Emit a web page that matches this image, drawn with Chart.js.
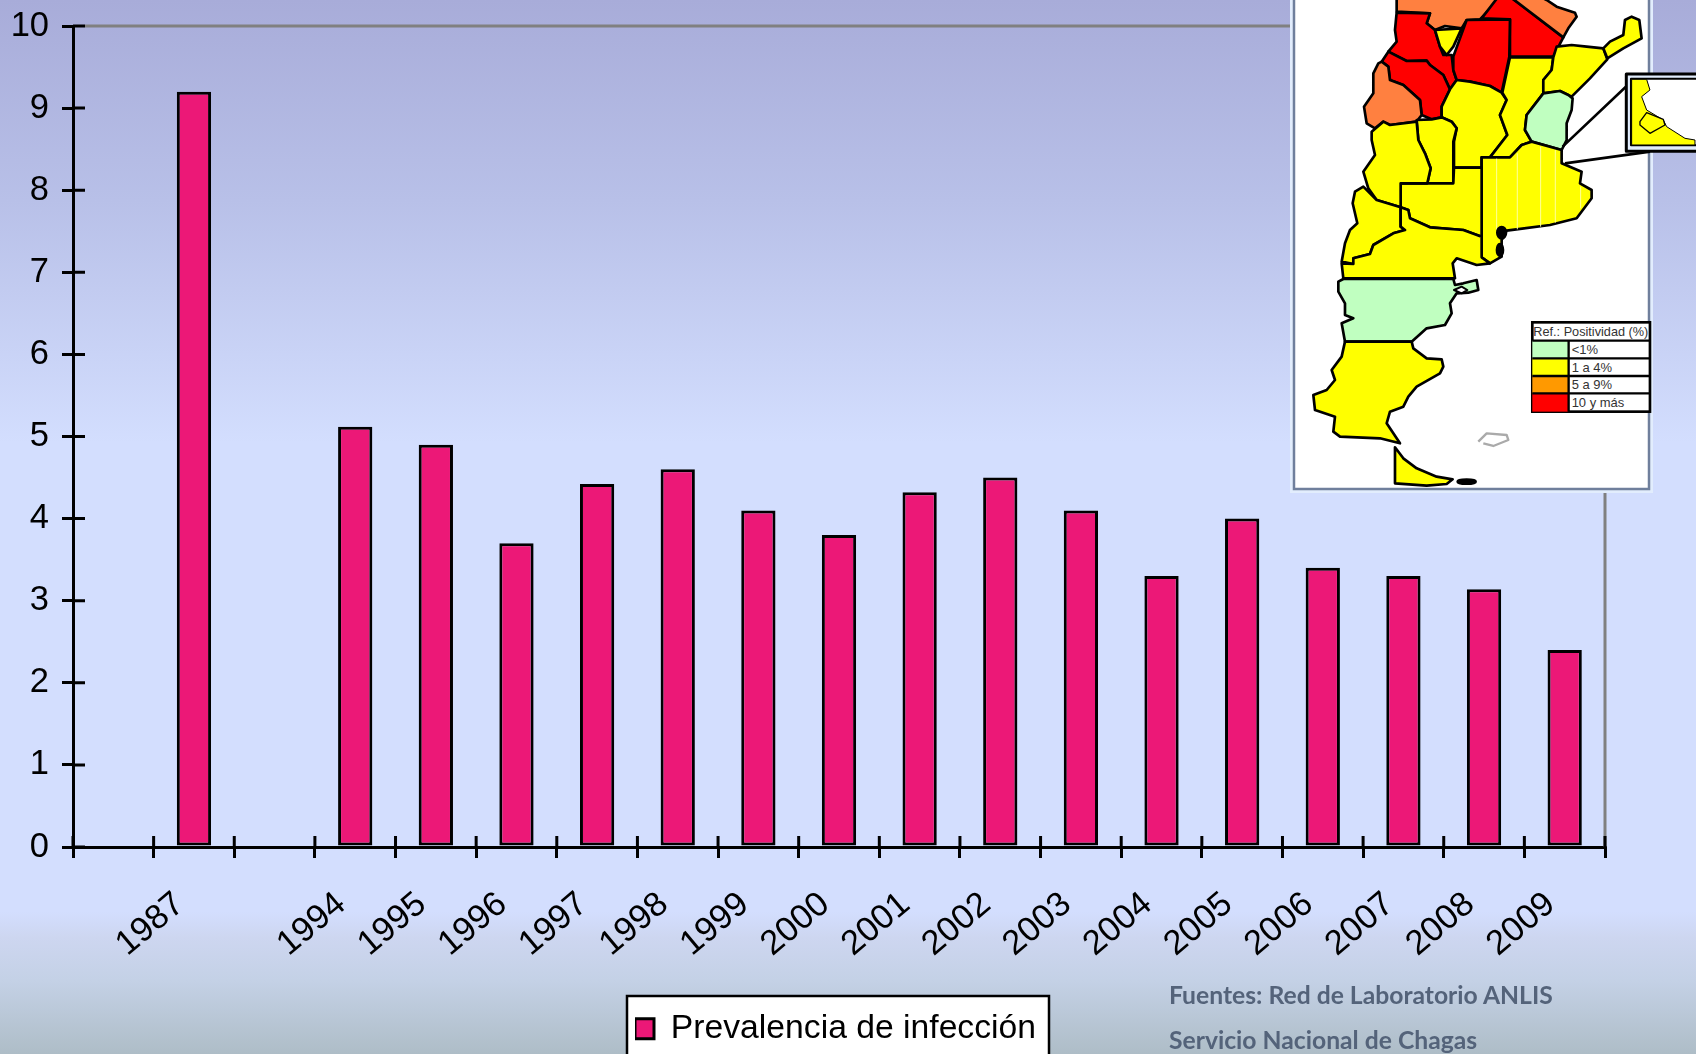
<!DOCTYPE html>
<html><head><meta charset="utf-8">
<script src="https://cdn.jsdelivr.net/npm/chart.js@4"></script>
<style>
html,body{margin:0;padding:0;width:1696px;height:1054px;overflow:hidden}
body{position:relative;background:linear-gradient(to bottom,#a8acd9 0,#b8c0e8 19%,#d3defe 42%,#d3defe 86.5%,#cdd6f0 89%,#c4d1e6 93%,#aebdc7 100%)}
#c{position:absolute;left:0;top:0}
#map{position:absolute;left:0;top:0}
.src{position:absolute;left:1169px;font:bold 24.7px Lato,sans-serif;color:#54637a;white-space:nowrap}
</style></head><body>
<canvas id="c" width="1696" height="1054"></canvas>
<svg id="map" width="1696" height="1054" xmlns="http://www.w3.org/2000/svg">
<rect x="1290" y="-5" width="363" height="498" fill="#e2edfd"/>
<rect x="1294" y="-5" width="355" height="494" fill="#fff" stroke="#6f7f9c" stroke-width="2.5"/>
<g transform="translate(1270,0) scale(0.3333)" stroke="#000" stroke-width="8" stroke-linejoin="round">
<path fill="#ff8040" d="M380,-10 380,35 480,40 470,70 495,90 525,78 575,85 590,60 630,58 695,-10Z"/>
<path fill="#ff0000" d="M685,-10 635,55 720,58 720,170 850,170 880,112 720,-10Z"/>
<path fill="#ff8040" d="M720,-10 880,112 895,85 920,50 915,38 860,20 830,0 810,-10Z"/>
<path fill="#ff0000" d="M380,38 480,40 470,70 495,90 510,140 520,165 545,165 550,210 560,240 540,268 520,225 480,195 470,182 410,183 355,155 380,125 375,90Z"/>
<path fill="#ffff00" d="M495,90 575,85 550,140 530,165 510,140Z"/>
<path fill="#ff0000" d="M590,60 720,58 718,170 695,278 660,258 600,245 560,240 550,210 550,170Z"/>
<path fill="#ff0000" d="M355,155 410,183 470,182 480,195 520,225 540,268 515,320 515,352 485,358 455,345 450,300 400,255 360,240 355,200 335,185Z"/>
<path fill="#ff8040" d="M335,185 355,200 360,240 400,255 450,300 455,345 440,365 360,375 340,365 315,385 290,370 282,320 310,280 310,220 325,190Z"/>
<path fill="#ffff00" d="M560,240 600,245 660,258 695,278 710,300 690,345 712,405 660,472 635,472 635,503 552,503 552,425 560,385 545,365 515,352 515,320 540,268Z"/>
<path fill="#ffff00" d="M440,360 485,358 515,352 545,365 560,385 550,425 550,550 472,550 482,505 465,460 445,420Z"/>
<path fill="#ffff00" d="M720,172 850,172 845,210 820,240 820,280 770,345 765,390 785,425 755,435 720,472 660,472 712,405 690,345 710,300 697,278Z"/>
<path fill="#ffff00" d="M860,140 905,135 950,140 1000,145 1012,178 960,235 905,290 870,273 820,280 820,240 845,210 850,172Z"/>
<path fill="#ffff00" d="M1000,145 1020,125 1060,105 1065,60 1085,50 1108,60 1115,115 1060,145 1012,175Z"/>
<path fill="#c0ffc0" d="M820,280 870,273 895,285 908,295 905,330 890,370 890,420 875,450 785,425 765,390 770,345Z"/>
<path fill="#ffff00" d="M635,472 720,472 755,435 785,425 875,450 875,490 935,515 930,550 965,570 965,595 920,655 840,675 710,692 695,720 695,770 660,790 635,772Z"/>
<path fill="none" stroke="#ffffa0" stroke-width="3" d="M680,476V690M742,460V688M812,440V680M856,450V668M932,560V625"/>
<path fill="#ffff00" d="M392,550 472,550 550,550 552,503 635,503 635,710 580,690 480,682 420,655 415,630 392,622Z"/>
<path fill="#ffff00" d="M305,395 340,365 360,375 440,365 445,420 465,460 482,505 472,550 392,550 392,622 320,600 295,565 280,515 315,465 305,420Z"/>
<path fill="#ffff00" d="M280,560 320,600 392,622 392,680 405,690 370,700 310,735 300,762 250,775 250,792 215,785 225,730 240,690 262,670 248,610 255,575Z"/>
<path fill="#ffff00" d="M215,790 250,792 250,775 300,762 310,735 370,700 405,690 392,680 392,622 415,630 420,655 480,682 580,690 635,710 635,772 660,790 620,795 560,775 548,790 555,835 220,835Z"/>
<ellipse cx="695" cy="698" rx="13" ry="17" fill="#000"/>
<ellipse cx="690" cy="750" rx="9" ry="18" fill="#000"/>
<path fill="none" d="M878,440 1105,225M885,490 1140,455"/>
<rect x="1069" y="222" width="240" height="232" fill="#e2edfd" stroke-width="9"/>
<rect x="1083" y="236" width="225" height="200" fill="#fff" stroke-width="6"/>
<path fill="#ffff00" stroke-width="3" d="M1085,238 1130,238 1140,270 1115,290 1130,330 1180,360 1190,380 1245,415 1275,420 1275,435 1085,435Z"/>
<path fill="#ffff00" stroke-width="4" d="M1110,365 1130,338 1180,358 1185,375 1140,400 1110,375Z"/>
</g>
<g transform="translate(1270,260) scale(0.3333)" stroke="#000" stroke-width="8" stroke-linejoin="round">
<path fill="#c0ffc0" d="M220,57 550,57 555,75 580,70 620,60 625,90 595,98 560,100 540,130 545,160 525,195 470,205 425,245 225,245 215,190 250,175 225,165 225,130 205,95 205,65Z"/>
<path fill="#fff" stroke-width="6" d="M552,90 575,80 592,90 575,100Z"/>
<path fill="#ffff00" d="M225,245 425,245 430,265 470,295 515,298 520,320 510,340 440,380 415,410 400,440 360,455 350,490 390,550 330,535 210,530 190,515 195,470 135,450 130,405 170,390 195,360 185,330 215,290Z"/>
<path fill="#ffff00" d="M375,562 400,595 440,625 500,650 548,658 530,672 470,677 375,670Z"/>
<ellipse cx="590" cy="665" rx="27" ry="6" fill="#000"/>
<path fill="none" stroke="#aaa" stroke-width="7" d="M625,545 650,520 710,525 715,540 670,558 640,550"/>
</g>
<g transform="translate(1270,260) scale(0.3333)" font-family="Liberation Sans, Arial, sans-serif" font-size="39" fill="#333">
<rect x="787" y="187" width="353" height="268" fill="#fff" stroke="#000" stroke-width="8"/>
<rect x="787" y="242" width="108" height="53" fill="#c0ffc0"/>
<rect x="787" y="295" width="108" height="53" fill="#ffff00"/>
<rect x="787" y="348" width="108" height="52" fill="#ff9900"/>
<rect x="787" y="400" width="108" height="55" fill="#ff0000"/>
<path stroke="#000" stroke-width="7" fill="none" d="M787,242H1140M787,295H1140M787,348H1140M787,400H1140M896,242V455"/>
<text x="790" y="229" textLength="345" lengthAdjust="spacingAndGlyphs">Ref.: Positividad (%)</text>
<text x="905" y="283">&lt;1%</text>
<text x="905" y="336">1 a 4%</text>
<text x="905" y="388">5 a 9%</text>
<text x="905" y="442">10 y más</text>
</g>
</svg>
<div class="src" style="top:980px">Fuentes: Red de Laboratorio ANLIS</div>
<div class="src" style="top:1025px">Servicio Nacional de Chagas</div>
<script>
const categories = ['', '1987', '', '1994', '1995', '1996', '1997', '1998', '1999', '2000', '2001', '2002', '2003', '2004', '2005', '2006', '2007', '2008', '2009'];
const prevalencia = [null, 9.2, null, 5.12, 4.9, 3.7, 4.42, 4.6, 4.1, 3.8, 4.32, 4.5, 4.1, 3.3, 4.0, 3.4, 3.3, 3.14, 2.4];
const seriesName = 'Prevalencia de infección';

const decor = {
  id: 'decor',
  afterLayout(chart) {
    const l = chart.legend;
    l.left = 635; l.right = 1045; l.top = 1012; l.bottom = 1054;
  },
  beforeDraw(chart) {
    const g = chart.ctx;
    g.save();
    g.fillStyle = '#fff'; g.strokeStyle = '#000'; g.lineWidth = 2.5;
    g.fillRect(627, 996, 422, 70); g.strokeRect(627, 996, 422, 70);
    g.restore();
  },
  afterDraw(chart) {
    const g = chart.ctx, a = chart.chartArea, y = chart.scales.y;
    g.save();
    g.strokeStyle = '#808080'; g.lineWidth = 3;
    g.beginPath();
    g.moveTo(a.left + 12, a.top); g.lineTo(a.right, a.top); g.lineTo(a.right, a.bottom);
    g.stroke();
    g.strokeStyle = '#000'; g.lineWidth = 3;
    g.beginPath();
    y.ticks.forEach((t, i) => { const p = y.getPixelForTick(i); g.moveTo(a.left, p); g.lineTo(a.left + 12, p); });
    const band = a.width / categories.length;
    for (let i = 0; i <= categories.length; i++) { const p = a.left + i * band; g.moveTo(p, a.bottom); g.lineTo(p, a.bottom - 11); }
    g.stroke();
    g.restore();
  }
};

new Chart(document.getElementById('c'), {
  type: 'bar',
  data: { labels: categories, datasets: [{
    label: seriesName, data: prevalencia,
    backgroundColor: '#ec1877', borderColor: '#000', borderWidth: 3, borderSkipped: false,
    barPercentage: 0.425, categoryPercentage: 1
  }]},
  plugins: [decor],
  options: {
    responsive: false, animation: false,
    layout: { padding: { left: 0, top: 26, right: 91, bottom: 87 } },
    plugins: {
      tooltip: { enabled: false },
      legend: { position: 'chartArea', align: 'start', labels: { boxWidth: 19, boxHeight: 20, padding: 0, color: '#000', font: { family: 'Liberation Sans', size: 33.7 } } }
    },
    scales: {
      x: {
        afterFit(s) { s.height = 120; s.paddingLeft = 0; s.paddingRight = 0; s.paddingTop = 0; s.paddingBottom = 0; },
        grid: { offset: true, drawOnChartArea: false, color: '#000', lineWidth: 3, tickLength: 11, tickColor: '#000' },
        border: { color: '#000', width: 3 },
        ticks: { autoSkip: false, maxRotation: 40, minRotation: 40, labelOffset: -14, padding: 26, color: '#000', font: { family: 'Liberation Sans', size: 34.5 } }
      },
      y: {
        min: 0, max: 10,
        afterFit(s) { s.width = 73; s.paddingTop = 0; s.paddingBottom = 0; s.paddingLeft = 0; s.paddingRight = 0; },
        grid: { drawOnChartArea: false, color: '#000', lineWidth: 3, tickLength: 11, tickColor: '#000' },
        border: { color: '#000', width: 3 },
        ticks: { stepSize: 1, padding: 13, color: '#000', font: { family: 'Liberation Sans', size: 34.5 } }
      }
    }
  }
});
</script>
</body></html>
